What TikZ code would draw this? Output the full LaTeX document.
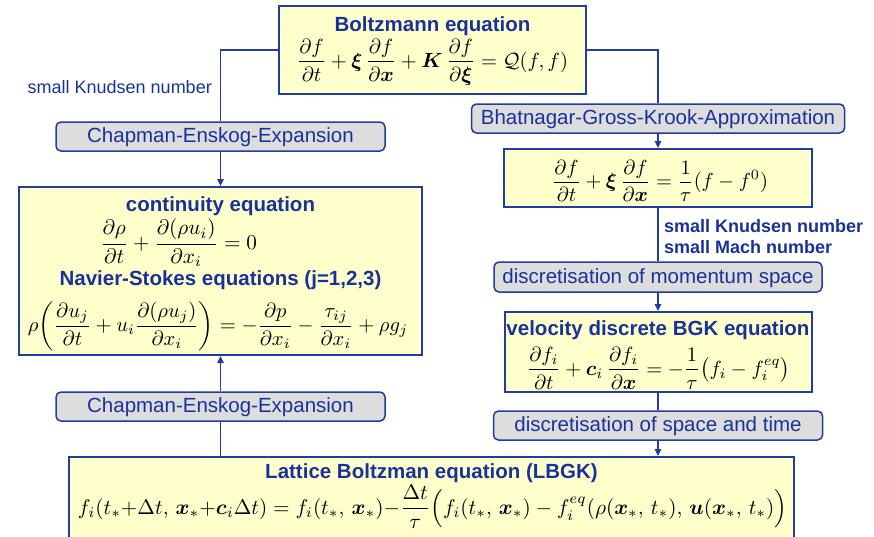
\documentclass[tikz,border=0pt]{standalone}
\usepackage{amsmath}
\usepackage{bm}
\usepackage{graphicx}
\usepackage[no-math]{fontspec}
\setmainfont{Liberation Sans}
\usetikzlibrary{arrows.meta}
\definecolor{lineblue}{RGB}{35,60,160}
\definecolor{txtblue}{RGB}{25,50,155}
\definecolor{boxyellow}{RGB}{255,255,204}
\definecolor{boxgray}{RGB}{221,221,221}
\tikzset{
 eqbox/.style={draw=lineblue, line width=2pt, fill=boxyellow, inner sep=0pt},
 stepbox/.style={draw=lineblue, line width=1.5pt, fill=boxgray, rounded corners=5pt, inner sep=0pt,
   font=\fontsize{20.5}{24}\selectfont, text=txtblue, text height=15pt, text depth=3pt},
 title/.style={font=\bfseries\fontsize{20.5}{24}\selectfont, text=txtblue, inner sep=0pt, anchor=base},
 eqn/.style={inner sep=0pt},
 conn/.style={draw=lineblue, line width=1.5pt},
 arr/.style={conn, -{Triangle[length=7pt,width=6.5pt]}},
 note/.style={font=\fontsize{18}{22}\selectfont, text=txtblue, inner sep=0pt},
 notebold/.style={font=\bfseries\fontsize{18}{22}\selectfont, text=txtblue, inner sep=0pt},
}
\begin{document}
\begin{tikzpicture}[x=1pt,y=-1pt]
\useasboundingbox (0,0) rectangle (874,536);
\clip (0,0) rectangle (874,536);
% boxes
\node[eqbox, minimum width=307pt, minimum height=88pt] (boltz) at (432.5,50) {};
\node[title] (boltzT) at (432.5,31) {Boltzmann equation};
\node[eqn] (boltzE) at (432.5,62) {\resizebox{271pt}{!}{$\displaystyle \frac{\partial f}{\partial t}+\bm{\xi}\,\frac{\partial f}{\partial \bm{x}}+\bm{K}\,\frac{\partial f}{\partial \bm{\xi}}=\mathcal{Q}(f,f)$}};

\node[stepbox, minimum width=329pt, minimum height=29pt] (ce1) at (220.5,136.5) {Chapman-Enskog-Expansion};

\node[eqbox, minimum width=403pt, minimum height=168pt] (cont) at (220.5,271) {};
\node[title] (contT) at (220.5,211) {continuity equation};
\node[eqn] (contE) at (178.5,243) {\resizebox{157pt}{!}{$\displaystyle \frac{\partial\rho}{\partial t}+\frac{\partial(\rho u_i)}{\partial x_i}=0$}};
\node[title] (nsT) at (220.5,285) {Navier-Stokes equations (j=1,2,3)};
\node[eqn] (nsE) at (218,326) {\resizebox{380pt}{!}{$\displaystyle \rho\biggl(\frac{\partial u_j}{\partial t}+u_i\frac{\partial(\rho u_j)}{\partial x_i}\biggr)=-\frac{\partial p}{\partial x_i}-\frac{\tau_{ij}}{\partial x_i}+\rho g_j$}};

\node[stepbox, minimum width=329pt, minimum height=29pt] (ce2) at (220.5,406.5) {Chapman-Enskog-Expansion};

\node[stepbox, minimum width=373pt, minimum height=29pt] (bgk) at (658,118.5) {Bhatnagar-Gross-Krook-Approximation};

\node[eqbox, minimum width=308pt, minimum height=58pt] (eq1) at (658,178) {};
\node[eqn] (eq1E) at (660,181) {\resizebox{216pt}{!}{$\displaystyle \frac{\partial f}{\partial t}+\bm{\xi}\,\frac{\partial f}{\partial \bm{x}}=\frac{1}{\tau}(f-f^0)$}};

\node[stepbox, minimum width=328pt, minimum height=30pt] (mom) at (658,277) {discretisation of momentum space};

\node[eqbox, minimum width=307pt, minimum height=80pt] (vel) at (658,352) {};
\node[title] (velT) at (658,335) {velocity discrete BGK equation};
\node[eqn] (velE) at (658.5,368) {\resizebox{263pt}{!}{$\displaystyle \frac{\partial f_i}{\partial t}+\bm{c}_i\,\frac{\partial f_i}{\partial \bm{x}}=-\frac{1}{\tau}\bigl(f_i-f_i^{eq}\bigr)$}};

\node[stepbox, minimum width=329pt, minimum height=29pt] (st) at (658,425.5) {discretisation of space and time};

\node[eqbox, minimum width=725pt, minimum height=100pt] (lat) at (431.5,507) {};
\node[title] (latT) at (431.5,478) {Lattice Boltzman equation (LBGK)};
\node[eqn] (latE) at (432.5,507) {\resizebox{709pt}{!}{$\displaystyle f_i(t_*{+}\Delta t,\,\bm{x}_*{+}\bm{c}_i\Delta t)=f_i(t_*,\,\bm{x}_*){-}\frac{\Delta t}{\tau}\Bigl(f_i(t_*,\,\bm{x}_*)-f_i^{eq}(\rho(\bm{x}_*,\,t_*),\,\bm{u}(\bm{x}_*,\,t_*)\Bigr)$}};

% labels
\node[note, anchor=east] (kn1) at (212,87) {small Knudsen number};
\node[notebold, anchor=west] (kn2) at (664,226) {small Knudsen number};
\node[notebold, anchor=west] (ma2) at (664,247) {small Mach number};

% connectors
\draw[conn] (boltz.west) -| (ce1.north);
\draw[arr] (ce1.south) -- (cont.north);
\draw[conn] (boltz.east) -| (bgk.north);
\draw[arr] (bgk.south) -- (eq1.north);
\draw[conn] (eq1.south) -- (mom.north);
\draw[arr] (mom.south) -- (vel.north);
\draw[conn] (vel.south) -- (st.north);
\draw[arr] (st.south) -- (st.south |- lat.north);
\draw[conn] (ce2.south |- lat.north) -- (ce2.south);
\draw[arr] (ce2.north) -- (cont.south);
\end{tikzpicture}
\end{document}
